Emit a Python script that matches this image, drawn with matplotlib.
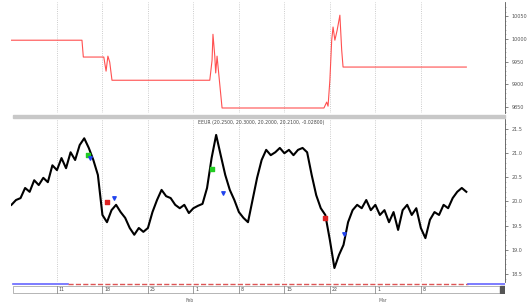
import matplotlib
matplotlib.use('Agg')
from matplotlib import pyplot as plt
from matplotlib.patches import Rectangle

# bar index -> weekly ticks every 10 bars
week_ticks = [10, 20, 30, 40, 50, 60, 70, 80, 90]
week_labels = ['11', '18', '25', '1', '8', '15', '22', '1', '8']

# price series (one value per bar)
price = [19.93, 20.03, 20.07, 20.28, 20.20, 20.44, 20.34, 20.49, 20.40, 20.75,
         20.65, 20.90, 20.69, 21.02, 20.86, 21.17, 21.31, 21.11, 20.86, 20.55,
         19.72, 19.57, 19.82, 19.93, 19.78, 19.66, 19.45, 19.31, 19.45, 19.37,
         19.45, 19.78, 20.03, 20.24, 20.11, 20.07, 19.93, 19.86, 19.93, 19.76,
         19.86, 19.91, 19.95, 20.28, 20.90, 21.38, 20.96, 20.55, 20.24, 20.03,
         19.78, 19.66, 19.57, 20.03, 20.49, 20.86, 21.07, 20.96, 21.02, 21.11,
         21.00, 21.07, 20.96, 21.07, 21.11, 21.02, 20.55, 20.13, 19.86, 19.72,
         19.20, 18.62, 18.89, 19.10, 19.57, 19.82, 19.93, 19.86, 20.03, 19.82,
         19.93, 19.72, 19.82, 19.57, 19.78, 19.41, 19.82, 19.93, 19.72, 19.86,
         19.45, 19.24, 19.62, 19.78, 19.72, 19.93, 19.86, 20.07, 20.20, 20.28,
         20.20]

# indicator line in top panel
ind_x = [0, 15.5, 15.8, 20.3, 20.8, 21.2, 21.6, 22.1, 43.6, 44.1, 44.3, 44.7, 44.9,
         45.2, 45.6, 46.3, 68.7, 69.3, 69.6, 70.0, 70.4, 70.7, 71.1, 71.6, 72.2,
         72.6, 72.9, 100]
ind_y = [9997, 9997, 9960, 9960, 9929, 9962, 9949, 9909, 9909, 9953, 10010, 9962,
         9925, 9962, 9920, 9848, 9848, 9861, 9852, 9909, 9997, 10026, 9997, 10019,
         10052, 9975, 9938, 9938]

# signal markers
green_x = [16.8, 44.0]
green_y = [20.96, 20.67]
red_x = [21.0, 69.0]
red_y = [19.99, 19.66]
blue_x = [17.3, 22.5, 46.5, 73.0]
blue_y = [20.90, 20.07, 20.17, 19.33]

fig = plt.figure(figsize=(5.28, 3.05), dpi=100)
W, H = 528.0, 305.0
xmin, xmax = -0.1, 108.5

def box(x0, y0, x1, y1):
    return [x0 / W, 1 - y1 / H, (x1 - x0) / W, (y1 - y0) / H]

def style(ax):
    for s in ['top', 'left', 'bottom']:
        ax.spines[s].set_visible(False)
    ax.spines['right'].set_color('#555555')
    ax.spines['right'].set_linewidth(0.6)
    ax.yaxis.tick_right()
    ax.tick_params(axis='y', labelsize=3.5, length=2, width=0.5, colors='#555555', pad=3)
    ax.tick_params(axis='y', which='minor', length=1, width=0.4, colors='#888888')
    ax.tick_params(axis='x', length=0, labelbottom=False)
    ax.set_xticks(week_ticks)
    ax.grid(axis='x', color='#bbbbbb', linestyle=':', linewidth=0.6)
    ax.set_xlim(xmin, xmax)

ax1 = fig.add_axes(box(11, 2, 505, 113))
style(ax1)
ax1.plot(ind_x, ind_y, color='#ff5050', linewidth=0.8)
ax1.set_ylim(9837, 10081)
ax1.set_yticks([9850, 9900, 9950, 10000, 10050])
ax1.set_yticks(range(9840, 10080, 10), minor=True)

ax2 = fig.add_axes(box(11, 119, 505, 282))
style(ax2)
ax2.plot(range(len(price)), price, color='black', linewidth=1.5)
ax2.scatter(green_x, green_y, marker='s', s=5, color='#22cc22', zorder=3)
ax2.scatter(red_x, red_y, marker='s', s=5, color='#dd2222', zorder=3)
ax2.scatter(blue_x, blue_y, marker='v', s=6, color='#2244ee', zorder=3)
ax2.set_ylim(18.33, 21.71)
ax2.set_yticks([18.5, 19.0, 19.5, 20.0, 20.5, 21.0, 21.5])
ax2.set_yticklabels(['18.5', '19.0', '19.5', '20.0', '20.5', '21.0', '21.5'])
ax2.set_yticks([18.4 + 0.1 * i for i in range(33)], minor=True)
ax2.text(41, 21.64, 'EEUR (20.2500, 20.3000, 20.2000, 20.2100, -0.02800)',
         fontsize=3.3, color='#444444', va='center')

# separator between panels
fig.patches.append(Rectangle((13 / W, 1 - 118 / H), (505 - 13) / W, 3 / H,
                             transform=fig.transFigure, color='#c8c8c8'))

# date strip
ax3 = fig.add_axes(box(11, 283, 505, 294))
ax3.set_xlim(xmin, xmax)
ax3.set_ylim(0, 1)
ax3.axis('off')
ax3.plot([0.3, 12.5], [0.95, 0.95], color='#6666ff', linewidth=1.2)
ax3.plot([12.5, 100.3], [0.95, 0.95], color='#dd5555', linewidth=1.0, linestyle='--')
ax3.plot([100.3, xmax], [0.95, 0.95], color='#6666ff', linewidth=1.2)
ax3.add_patch(Rectangle((0.3, 0.05), xmax - 0.3, 0.7, fill=False, edgecolor='#999999', linewidth=0.5))
for t, lab in zip(week_ticks, week_labels):
    ax3.plot([t, t], [0.05, 0.75], color='#777777', linewidth=0.5)
    ax3.text(t + 0.4, 0.4, lab, fontsize=3.3, color='#444444', va='center')
ax3.add_patch(Rectangle((xmax - 1.2, 0.05), 1.2, 0.7, color='#555555'))
fig.text(190 / W, 1 - 301 / H, 'Feb', fontsize=3.3, color='#666666', ha='center', va='center')
fig.text(383 / W, 1 - 301 / H, 'Mar', fontsize=3.3, color='#666666', ha='center', va='center')

fig.savefig('out.png', dpi=100)
